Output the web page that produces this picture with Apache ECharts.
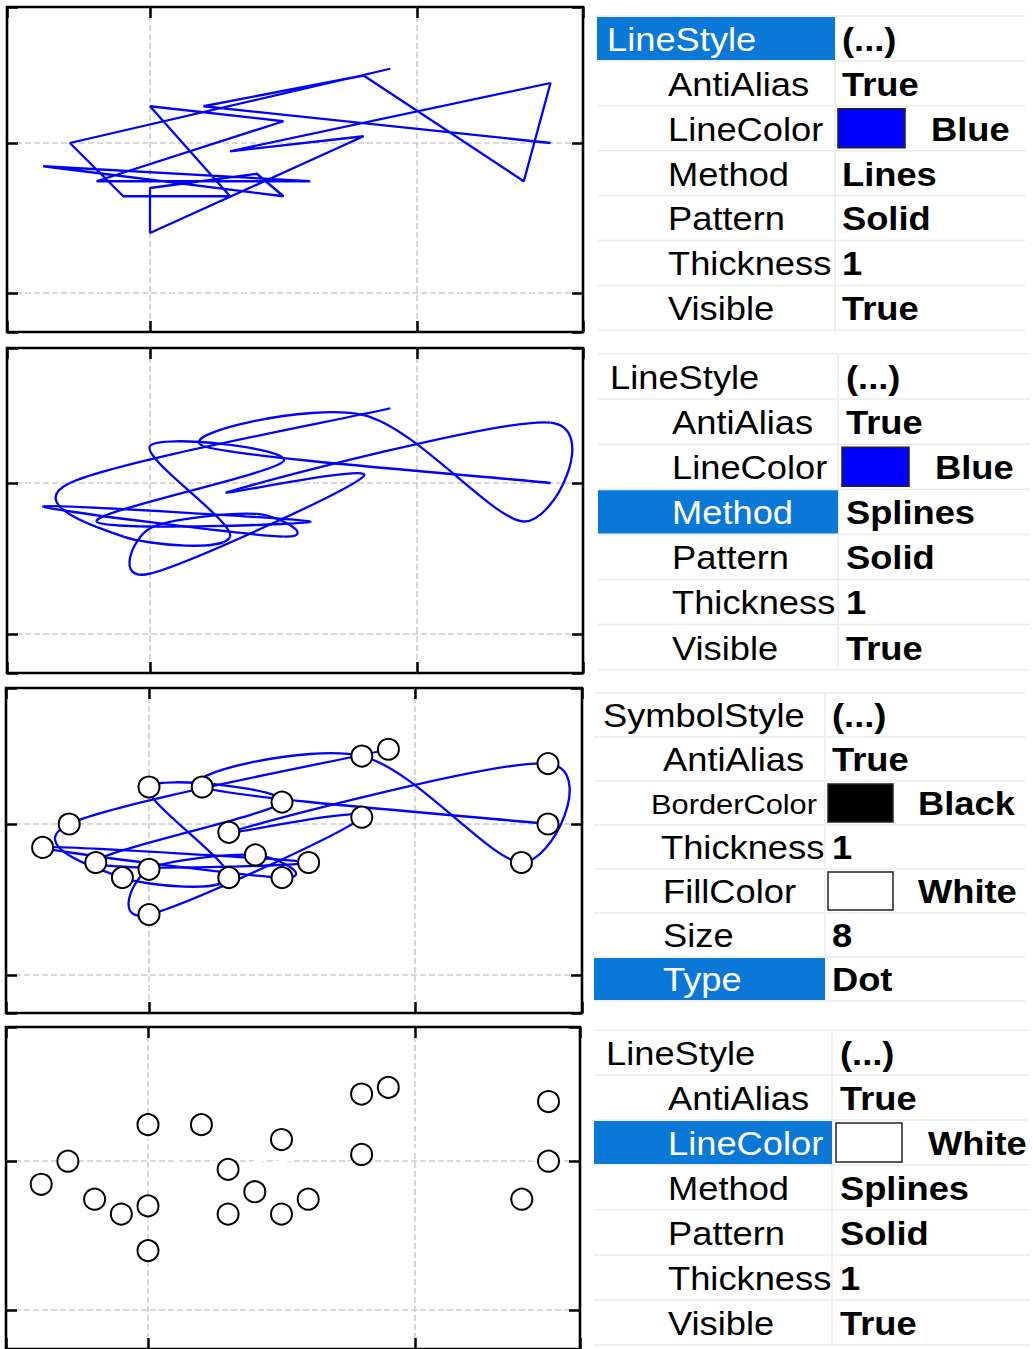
<!DOCTYPE html>
<html><head><meta charset="utf-8">
<script src="https://cdn.jsdelivr.net/npm/echarts@6/dist/echarts.min.js"></script>
<style>html,body{margin:0;padding:0;background:#fff}#chart{width:1033px;height:1349px}</style>
</head><body><div id="chart"></div>
<script>
// ---- data (path order) ----
const pointX = [25, 12, 18, 24, 25, 13, 18, 10, 10, 14, 15, 6, 16, 8, 15, 10, 13, 9, 7, 19];
const pointY = [40, 44.9, 49, 34.9, 48, 38.9, 40.9, 28, 34, 35.9, 32.9, 36.9, 34.9, 34.9, 42.9, 44.9, 32.9, 32.9, 40, 49.9];

// ---- property grid texts ----
const panel1Names = ['LineStyle', 'AntiAlias', 'LineColor', 'Method', 'Pattern', 'Thickness', 'Visible'];
const panel1Values = ['(...)', 'True', 'Blue', 'Lines', 'Solid', '1', 'True'];
const panel2Names = ['LineStyle', 'AntiAlias', 'LineColor', 'Method', 'Pattern', 'Thickness', 'Visible'];
const panel2Values = ['(...)', 'True', 'Blue', 'Splines', 'Solid', '1', 'True'];
const panel3Names = ['SymbolStyle', 'AntiAlias', 'BorderColor', 'Thickness', 'FillColor', 'Size', 'Type'];
const panel3Values = ['(...)', 'True', 'Black', '1', 'White', '8', 'Dot'];
const panel4Names = ['LineStyle', 'AntiAlias', 'LineColor', 'Method', 'Pattern', 'Thickness', 'Visible'];
const panel4Values = ['(...)', 'True', 'White', 'Splines', 'Solid', '1', 'True'];

// ---- layout (pixels) ----
const boxes = [
  {l: 7, r: 583, t: 7, b: 332, gx: [150, 417], gy: [143, 293]},
  {l: 7, r: 583, t: 348, b: 673, gx: [150, 417], gy: [483, 634]},
  {l: 6, r: 582, t: 688, b: 1013, gx: [149, 415], gy: [824, 975]},
  {l: 6, r: 580, t: 1027, b: 1351, gx: [148, 415], gy: [1162, 1312]}
];
const GX0 = 10, GX1 = 20, GY0 = 40, GY1 = 20; // values at the dashed grid lines

const grids = [], xAxes = [], yAxes = [];
const tickStyle = {show: true, inside: true, length: 11, lineStyle: {color: '#000', width: 2.5}};
const splitStyle = {show: true, showMinLine: false, showMaxLine: false,
  lineStyle: {color: '#cdcdcd', width: 1.6, type: [6, 3]}};
boxes.forEach((b, k) => {
  grids.push({left: b.l, top: b.t, width: b.r - b.l, height: b.b - b.t, show: true,
    borderColor: '#000', borderWidth: 2.6, backgroundColor: '#fff', containLabel: false});
  const pxPerX = (b.gx[1] - b.gx[0]) / (GX1 - GX0);
  const xmin = GX0 - (b.gx[0] - b.l) / pxPerX, xmax = GX1 + (b.r - b.gx[1]) / pxPerX;
  const pxPerY = (b.gy[1] - b.gy[0]) / (GY0 - GY1);
  const ymax = GY0 + (b.gy[0] - b.t) / pxPerY, ymin = GY1 - (b.b - b.gy[1]) / pxPerY;
  ['bottom', 'top'].forEach((pos, j) => xAxes.push({
    type: 'value', gridIndex: k, position: pos, min: xmin, max: xmax, splitNumber: 2,
    axisLine: {show: false}, axisTick: tickStyle, axisLabel: {show: false},
    splitLine: j === 0 ? splitStyle : {show: false}
  }));
  ['left', 'right'].forEach((pos, j) => yAxes.push({
    type: 'value', gridIndex: k, position: pos, min: ymin, max: ymax, splitNumber: 2,
    axisLine: {show: false}, axisTick: tickStyle, axisLabel: {show: false},
    splitLine: j === 0 ? splitStyle : {show: false}
  }));
});

const pairs = pointX.map((x, i) => [x, pointY[i]]);

function splineSeries(k, color, width) {
  const n = pointX.length;
  return {
    type: 'custom', xAxisIndex: 2 * k, yAxisIndex: 2 * k, z: 3, silent: true,
    data: pairs, encode: {x: 0, y: 1},
    renderItem(params, api) {
      const i = params.dataIndex;
      if (i >= n - 1) return {type: 'group', children: []};
      const P = j => { j = Math.max(0, Math.min(n - 1, j)); return api.coord([pointX[j], pointY[j]]); };
      const p0 = P(i - 1), p1 = P(i), p2 = P(i + 1), p3 = P(i + 2);
      return {
        type: 'bezierCurve',
        shape: {
          x1: p1[0], y1: p1[1], x2: p2[0], y2: p2[1],
          cpx1: p1[0] + (p2[0] - p0[0]) / 6, cpy1: p1[1] + (p2[1] - p0[1]) / 6,
          cpx2: p2[0] - (p3[0] - p1[0]) / 6, cpy2: p2[1] - (p3[1] - p1[1]) / 6
        },
        style: {stroke: color, lineWidth: width, fill: 'none'}
      };
    }
  };
}
function markerSeries(k) {
  return {
    type: 'scatter', xAxisIndex: 2 * k, yAxisIndex: 2 * k, z: 5, silent: true,
    data: pairs, symbol: 'circle', symbolSize: 21,
    itemStyle: {color: '#fff', borderColor: '#000', borderWidth: 2, opacity: 1}
  };
}

const series = [
  {type: 'line', xAxisIndex: 0, yAxisIndex: 0, data: pairs, smooth: false, showSymbol: false,
   silent: true, lineStyle: {color: '#0000ff', width: 2.3}},
  splineSeries(1, '#0000ff', 2.3),
  splineSeries(2, '#0000ff', 2.3),
  markerSeries(2),
  splineSeries(3, '#ffffff', 2.3),
  markerSeries(3)
];

// ---- property grids ----
const graphics = [];
const FONT = '"Liberation Sans", Arial, sans-serif';
function propGrid(names, values, L) {
  const n = names.length;
  const bottom = L.top + L.pitch * n;
  for (let i = 0; i <= n; i++) {
    const y = L.top + L.pitch * i;
    graphics.push({type: 'line', silent: true, shape: {x1: L.x0, y1: y, x2: L.right, y2: y},
      style: {stroke: '#ebebeb', lineWidth: 1.5}});
  }
  graphics.push({type: 'line', silent: true, shape: {x1: L.div, y1: L.top, x2: L.div, y2: bottom},
    style: {stroke: '#ebebeb', lineWidth: 1.5}});
  for (let i = 0; i < n; i++) {
    const rt = L.top + L.pitch * i, cy = rt + L.pitch / 2 + 1;
    const hi = i === L.hi;
    if (hi) graphics.push({type: 'rect', silent: true,
      shape: {x: L.x0, y: rt + 1, width: L.div - L.x0, height: L.pitch - 2}, style: {fill: '#0a78d6'}});
    const fs = (L.fontSize && L.fontSize[i]) || 33;
    const lx = (L.labelX && L.labelX[i]) || (i === 0 ? L.parentX : L.childX);
    graphics.push({type: 'text', silent: true, x: lx, y: cy, scaleX: 1.1,
      style: {text: names[i], fill: hi ? '#fff' : '#000', font: fs + 'px ' + FONT,
        align: 'left', verticalAlign: 'middle'}});
    const sw = L.swatch && L.swatch[i];
    if (sw) {
      graphics.push({type: 'rect', silent: true,
        shape: {x: L.swX, y: rt + 3, width: L.swW, height: L.pitch - 6},
        style: {fill: sw, stroke: '#222', lineWidth: 1.5}});
    }
    graphics.push({type: 'text', silent: true, x: sw ? L.swTextX : L.valueX, y: cy, scaleX: 1.1,
      style: {text: values[i], fill: '#000', font: 'bold 33px ' + FONT,
        align: 'left', verticalAlign: 'middle'}});
  }
}
propGrid(panel1Names, panel1Values, {x0: 597, div: 835, right: 1025, top: 16, pitch: 44.9,
  parentX: 607, childX: 668, valueX: 842, hi: 0, swatch: {2: '#0000ff'}, swX: 838, swW: 67, swTextX: 931});
propGrid(panel2Names, panel2Values, {x0: 598, div: 838, right: 1030, top: 354, pitch: 45.1,
  parentX: 610, childX: 672, valueX: 846, hi: 3, swatch: {2: '#0000ff'}, swX: 842, swW: 67, swTextX: 935});
propGrid(panel3Names, panel3Values, {x0: 594, div: 825, right: 1025, top: 693, pitch: 44.0,
  parentX: 603, childX: 663, valueX: 832, hi: 6, swatch: {2: '#000000', 4: '#ffffff'}, swX: 828, swW: 65,
  swTextX: 918, fontSize: {2: 28}, labelX: {2: 651, 3: 661}});
propGrid(panel4Names, panel4Values, {x0: 594, div: 832, right: 1030, top: 1030, pitch: 45.0,
  parentX: 606, childX: 668, valueX: 840, hi: 2, swatch: {2: '#ffffff'}, swX: 836, swW: 66, swTextX: 928});

const chart = echarts.init(document.getElementById('chart'), null, {renderer: 'svg'});
chart.setOption({
  animation: false,
  backgroundColor: '#fff',
  grid: grids, xAxis: xAxes, yAxis: yAxes,
  series: series,
  graphic: graphics
});
</script></body></html>
